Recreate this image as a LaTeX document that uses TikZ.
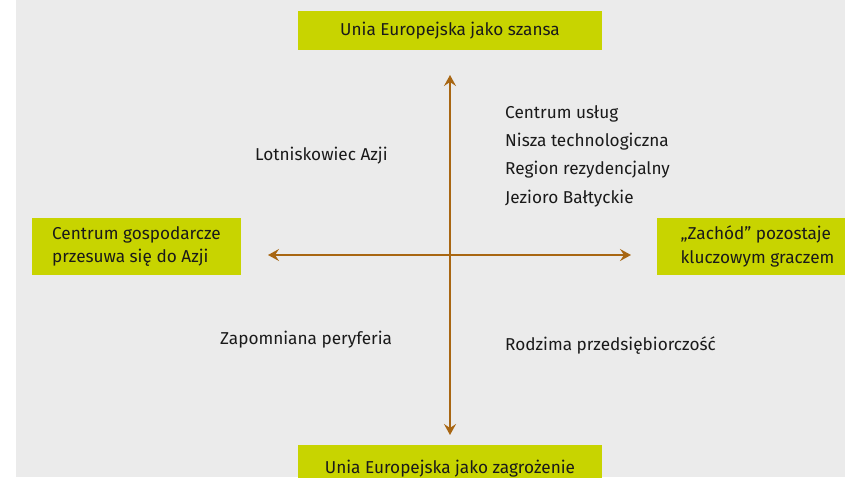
\documentclass[tikz,border=0pt]{standalone}
\usepackage{fontspec}
\setmainfont{Fira Sans}
\usetikzlibrary{arrows.meta}
\definecolor{bgrey}{RGB}{235,235,235}
\definecolor{lime}{RGB}{200,212,0}
\definecolor{axisbrown}{RGB}{168,102,18}
\definecolor{ink}{RGB}{26,26,26}
\begin{document}
\begin{tikzpicture}[x=1pt,y=-1pt,line join=round,
    font=\fontsize{17.2}{23.5}\selectfont, text=ink,
    scenbox/.style={fill=lime,inner sep=0pt,align=left},
    lbl/.style={anchor=base west,inner sep=0pt},
    axis/.style={draw=axisbrown,line width=2pt,{Stealth[length=11pt,width=12pt,inset=4pt]}-{Stealth[length=11pt,width=12pt,inset=4pt]}}]
    \clip (0,0) rectangle (845,477);
    \fill[white] (0,0) rectangle (845,477);
    \fill[bgrey] (16,0) rectangle (845,477);
    % scenario boxes
    \node[scenbox,minimum width=304,minimum height=39] (szansa) at (450,30.5) {Unia Europejska jako szansa};
    \node[scenbox,minimum width=304,minimum height=48] (zagrozenie) at (450,469) {Unia Europejska jako zagrożenie};
    \node[scenbox,minimum width=209,minimum height=57] (azja) at (136.5,246.5) {Centrum gospodarcze\\przesuwa się do Azji};
    \node[scenbox,minimum width=201,minimum height=57] (zachod) at (757.5,246.5) {„Zachód” pozostaje\\kluczowym graczem};
    % axes
    \coordinate (top) at (450,75);
    \coordinate (bottom) at (450,435);
    \coordinate (left) at (268,255);
    \coordinate (right) at (631,255);
    \draw[axis] (bottom) -- (top);
    \draw[axis] (left) -- (right);
    % quadrant labels
    \node[lbl] (lotnisko) at (255,160) {Lotniskowiec Azji};
    \node[lbl] (uslugi) at (505,118) {Centrum usług};
    \node[lbl] (nisza) at (505,146) {Nisza technologiczna};
    \node[lbl] (region) at (505,174) {Region rezydencjalny};
    \node[lbl] (jezioro) at (505,203) {Jezioro Bałtyckie};
    \node[lbl] (peryferia) at (220,344) {Zapomniana peryferia};
    \node[lbl] (rodzima) at (505,350) {Rodzima przedsiębiorczość};
\end{tikzpicture}
\end{document}
